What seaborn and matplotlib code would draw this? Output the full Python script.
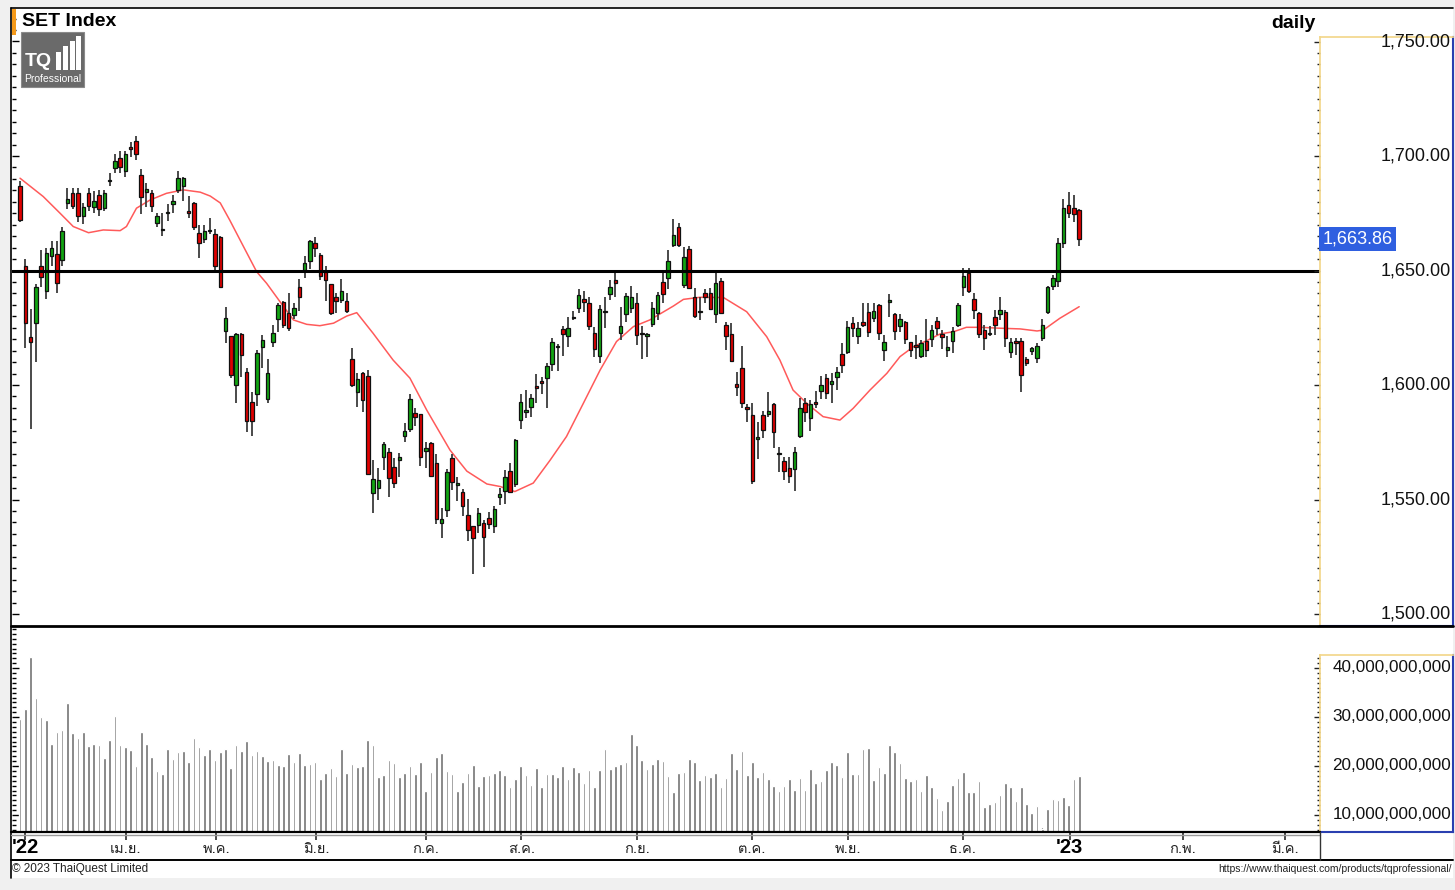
import numpy as np
import pandas as pd
import seaborn as sns
import matplotlib
matplotlib.use("Agg")
import matplotlib.pyplot as plt
from matplotlib import font_manager, transforms
from matplotlib.ft2font import FT2Font
from matplotlib.lines import Line2D
from matplotlib.patches import Rectangle
from matplotlib.ticker import MultipleLocator

# daily OHLC of the SET Index, Mar 2022 - Jan 2023
opens = [1687, 1652, 1621, 1627, 1652, 1641, 1656.5, 1657, 1654.6, 1679.6,
         1684, 1684, 1674, 1684, 1677.6, 1683, 1677.4, 1689, 1694.7, 1699,
         1693.6, 1703.8, 1706.7, 1691.7, 1684.4, 1683.7, 1670.9, 1667.5, 1675, 1679,
         1685.2, 1686.7, 1676, 1679.6, 1666.5, 1663.7, 1667.2, 1666, 1664.5, 1623.5,
         1621.4, 1600, 1622.3, 1605.8, 1592.7, 1596, 1616.7, 1593.7, 1619, 1628.7,
         1636.1, 1631.3, 1630.6, 1642.6, 1650.2, 1654.1, 1662.1, 1656.8, 1649.5, 1644,
         1638.6, 1637.1, 1636.9, 1611.4, 1597.1, 1605.1, 1604, 1552.7, 1555, 1568.4,
         1570.9, 1564.1, 1567.2, 1577.7, 1580.7, 1587.7, 1587.3, 1571.4, 1574.6, 1565.8,
         1539.7, 1545.4, 1568, 1556.2, 1553.3, 1543.2, 1538.4, 1539, 1539.9, 1542.1,
         1538.4, 1551.3, 1553.8, 1562.6, 1556.7, 1584.7, 1588.4, 1590.5, 1599.7, 1601.7,
         1602.9, 1609.3, 1616.5, 1624.4, 1621.2, 1629.4, 1633.5, 1637.4, 1635.7, 1622.9,
         1612.7, 1631.8, 1639.7, 1645.9, 1622.6, 1630.9, 1633.8, 1635.7, 1622.9, 1621.6,
         1626.6, 1631.6, 1645.1, 1646.6, 1661.1, 1668.9, 1643.7, 1659.4, 1638.3, 1631.7,
         1640.1, 1640.1, 1630.9, 1645.6, 1626.2, 1622.2, 1600.4, 1607.3, 1590.5, 1586.9,
         1576.4, 1586.9, 1587.3, 1591.6, 1570, 1566.8, 1563.9, 1563.2, 1577.7, 1592.3,
         1585.5, 1592.5, 1597.5, 1603.2, 1600.4, 1603.4, 1613.5, 1614.6, 1627.2, 1621.6,
         1627.7, 1631.8, 1629.1, 1634.9, 1615.4, 1636.1, 1630.9, 1625.8, 1627.4, 1618.8,
         1617.5, 1612.7, 1619.4, 1620, 1628, 1622.2, 1615.3, 1619.2, 1626.2, 1642.7,
         1649, 1637.6, 1631.6, 1624, 1622.4, 1629.6, 1630.9, 1632, 1614.6, 1619.4,
         1619.4, 1611.3, 1614.8, 1612, 1620.4, 1631.8, 1643.4, 1645.6, 1662, 1678.5,
         1677.5, 1676.5]
highs = [1689, 1655, 1633, 1644, 1659, 1660, 1663, 1663, 1669, 1686,
         1686, 1686, 1679.4, 1686, 1684.7, 1685, 1685, 1692.4, 1701, 1702,
         1702, 1706, 1708.7, 1694.2, 1688, 1685.2, 1675, 1675.2, 1679, 1683,
         1693.6, 1691, 1682.5, 1680, 1670, 1670, 1673, 1668, 1665, 1634.2,
         1621.5, 1622.5, 1622.5, 1607.3, 1597, 1615.3, 1621.8, 1611.2, 1626, 1636,
         1636.5, 1640.3, 1635.7, 1646.2, 1656.3, 1663.5, 1664.5, 1657.8, 1652, 1644.2,
         1640.1, 1646.2, 1640, 1616, 1605.1, 1605.8, 1606.6, 1567.2, 1563.6, 1575.3,
         1572.4, 1568, 1570.5, 1583.3, 1596.1, 1589.9, 1587.5, 1575.3, 1575, 1569.8,
         1546.2, 1563.3, 1569.9, 1559.8, 1554.6, 1550.2, 1538.5, 1546.2, 1541.1, 1544.7,
         1547.2, 1555, 1563, 1565.8, 1576.4, 1596.3, 1598, 1596.1, 1604.8, 1603.7,
         1609.5, 1620.7, 1617.9, 1625.8, 1629.9, 1632.3, 1641.8, 1641.2, 1638.3, 1625.5,
         1634.9, 1638.6, 1645.9, 1649.5, 1634, 1640.3, 1643.2, 1640.1, 1625.8, 1622.6,
         1636.4, 1640.8, 1648.8, 1659, 1672.4, 1670.7, 1660.4, 1660.9, 1642.3, 1638.3,
         1641.9, 1642.4, 1648.8, 1646.6, 1627.7, 1627, 1605.8, 1617, 1591.7, 1592.3,
         1584, 1588.7, 1597.1, 1592, 1573.1, 1568.7, 1568.7, 1573.1, 1594.2, 1594.2,
         1593.4, 1597.4, 1603.9, 1604.7, 1605.4, 1607.7, 1618.5, 1628.1, 1629.9, 1627.7,
         1635.7, 1635.7, 1635.7, 1635.4, 1621.8, 1639.7, 1631.4, 1630.9, 1628.1, 1619,
         1621.8, 1619.7, 1628.7, 1626.2, 1629.9, 1624, 1621.2, 1625.5, 1636, 1650.9,
         1650.9, 1640.3, 1632, 1626.2, 1625.8, 1632.8, 1638.6, 1632.8, 1620.5, 1620.5,
         1620.5, 1612.4, 1616.7, 1618.3, 1628.7, 1643.2, 1648, 1664, 1681, 1684.3,
         1683, 1677]
lows = [1671, 1616, 1581, 1610, 1643, 1637.6, 1652, 1640, 1652, 1677,
        1677, 1671, 1670.3, 1676, 1675, 1674, 1676, 1687, 1692.4, 1692.7,
        1690.7, 1699.7, 1698.3, 1674.7, 1677.6, 1675.7, 1669.2, 1665, 1671.8, 1675,
        1683.7, 1680.5, 1672.8, 1667.7, 1655.4, 1662, 1666, 1649, 1642.5, 1618.3,
        1603, 1592.3, 1603.7, 1579.7, 1577.7, 1590.8, 1607.3, 1592.3, 1616.5, 1623.3,
        1624.8, 1623.8, 1628.7, 1632.3, 1646.6, 1650.6, 1656, 1645.9, 1636.5, 1630.6,
        1631.3, 1636, 1631.3, 1599.3, 1590.5, 1588.2, 1560.7, 1544.3, 1549.8, 1562.9,
        1551.3, 1555, 1559.7, 1575.3, 1579.7, 1582.2, 1564.6, 1563.6, 1559.8, 1539.3,
        1533.1, 1542.5, 1554.2, 1549.4, 1542.9, 1532, 1517.5, 1535.6, 1520.7, 1537,
        1535.6, 1547.6, 1548, 1552.8, 1555.7, 1580.7, 1585.5, 1586.2, 1592, 1596.1,
        1589.8, 1606.3, 1606.1, 1612.7, 1616.7, 1628.4, 1631.6, 1632.1, 1624, 1612.4,
        1609.7, 1624.8, 1637.1, 1638.6, 1619.7, 1627.7, 1631.3, 1617.5, 1611.3, 1612.1,
        1625.2, 1628.4, 1636, 1641.8, 1660.4, 1660.4, 1642.3, 1641.8, 1629.1, 1628.4,
        1636, 1632.6, 1627, 1631, 1615.3, 1610.2, 1595.2, 1589.8, 1584, 1556.7,
        1567.6, 1576.7, 1585.9, 1572.4, 1562.2, 1558.5, 1557.4, 1553.8, 1576.7, 1584,
        1579.9, 1589.9, 1593.8, 1593.8, 1592, 1597.8, 1605.4, 1613.5, 1620.9, 1617.9,
        1625.5, 1620.9, 1627.3, 1619.7, 1610.5, 1629.9, 1619.7, 1623.3, 1617.9, 1612.4,
        1611.3, 1611.7, 1612.1, 1616.7, 1621.8, 1615.7, 1612.1, 1613.9, 1625.2, 1638.9,
        1640.3, 1628.7, 1620.5, 1615.3, 1621.4, 1621.8, 1628.4, 1616.7, 1611.7, 1613.1,
        1597.1, 1608.1, 1613.1, 1609.8, 1619.4, 1631, 1641.5, 1642.7, 1660, 1673,
        1671, 1660.5]
closes = [1672, 1627, 1619, 1643, 1647, 1657.5, 1660, 1644.5, 1667.4, 1681.2,
          1678, 1674, 1677.6, 1678, 1680.5, 1677, 1683.7, 1689.5, 1698, 1695,
          1700.9, 1703, 1700.9, 1682.3, 1685.6, 1678.2, 1673.8, 1668, 1675.3, 1680.3,
          1690.3, 1690.3, 1675, 1668.9, 1661.9, 1667.4, 1667.6, 1652, 1643, 1629.1,
          1604.4, 1622.3, 1613, 1584.4, 1584.4, 1613.9, 1619.7, 1605.4, 1622.6, 1634.9,
          1626.2, 1625, 1633.5, 1638.6, 1653.4, 1662.9, 1659.7, 1647.6, 1645.9, 1631.3,
          1636.9, 1641.1, 1632.3, 1600, 1602.5, 1593.4, 1561, 1559, 1558.5, 1574.1,
          1559.5, 1557.4, 1568.7, 1579.9, 1593.9, 1586, 1568.5, 1572.4, 1560.3, 1541.4,
          1541.4, 1562, 1557.8, 1557.2, 1547.1, 1536.7, 1533.1, 1544.3, 1533.6, 1539.3,
          1545.7, 1552.4, 1559.8, 1553.5, 1576, 1592.7, 1588.8, 1594.2, 1598.6, 1600.7,
          1608.3, 1618.8, 1617, 1622.2, 1624.8, 1629.8, 1639.3, 1636.1, 1625.8, 1615.6,
          1633.2, 1632.2, 1643, 1644.7, 1625.8, 1638.9, 1638.6, 1621.8, 1622.2, 1622,
          1633.5, 1639.3, 1639.7, 1654.1, 1665.5, 1661.1, 1656, 1642.3, 1630.3, 1632.1,
          1638.6, 1633.1, 1644.7, 1631.3, 1621.4, 1610.5, 1599.3, 1592.3, 1589.4, 1558.1,
          1577.5, 1580.3, 1588.6, 1579.4, 1570.4, 1562.6, 1560.4, 1570.9, 1589.8, 1588.4,
          1591.7, 1591.6, 1600, 1596.4, 1601.7, 1605.8, 1608.7, 1625.5, 1625.1, 1624.9,
          1626.2, 1623.3, 1632.3, 1622.6, 1619, 1637.1, 1623.6, 1628.7, 1620, 1615.3,
          1616.5, 1618.5, 1615.3, 1624, 1625.1, 1620.9, 1616.5, 1623.7, 1634.9, 1647.8,
          1641.2, 1632.8, 1622.2, 1620.4, 1622.8, 1626, 1632.8, 1620.4, 1618.8, 1618.3,
          1604.4, 1609.8, 1616.1, 1617.2, 1626.2, 1642.7, 1646.6, 1662, 1677.3, 1675.2,
          1674.5, 1663.86]
# traded value, billion baht
volume_bn = [29.6, 31.6, 42.3, 34.0, 30.1, 29.4, 24.6, 26.9, 27.3, 32.9,
             26.7, 25.8, 26.9, 24.1, 24.6, 24.2, 21.7, 25.4, 30.3, 24.2,
             23.9, 23.3, 20.0, 26.9, 24.6, 21.9, 19.0, 18.4, 23.5, 21.4,
             22.9, 23.1, 20.8, 25.8, 23.9, 22.3, 23.5, 21.2, 22.9, 23.5,
             19.7, 24.2, 23.1, 25.2, 22.3, 23.1, 22.1, 21.0, 21.2, 20.3,
             20.1, 22.5, 20.8, 22.7, 20.2, 20.4, 20.8, 17.3, 18.6, 19.7,
             17.9, 23.5, 18.6, 20.4, 19.9, 20.0, 25.4, 24.3, 17.8, 18.1,
             21.2, 20.6, 17.8, 18.6, 20.0, 18.4, 20.8, 15.0, 18.8, 21.9,
             22.7, 19.0, 18.3, 15.0, 16.7, 18.6, 20.2, 16.0, 17.9, 18.1,
             18.6, 19.2, 18.1, 15.8, 17.3, 20.0, 18.1, 16.2, 19.6, 15.8,
             18.3, 18.4, 17.7, 20.0, 17.3, 19.8, 18.8, 16.5, 19.2, 15.8,
             19.2, 23.4, 19.5, 20.0, 20.4, 20.9, 26.5, 24.4, 21.2, 19.5,
             20.4, 21.5, 21.1, 18.0, 14.8, 18.6, 18.8, 21.5, 20.8, 17.1,
             18.2, 17.7, 18.6, 15.8, 17.5, 22.7, 19.4, 23.1, 18.2, 20.8,
             17.8, 18.8, 17.3, 15.9, 14.9, 15.9, 17.3, 15.2, 17.5, 15.2,
             19.4, 16.5, 16.9, 19.2, 20.8, 20.2, 17.7, 22.9, 18.3, 18.3,
             23.5, 23.7, 17.1, 19.9, 18.5, 24.3, 22.9, 20.7, 17.6, 17.0,
             17.3, 14.9, 18.1, 15.7, 13.5, 11.0, 12.9, 16.1, 17.5, 18.8,
             14.6, 14.6, 17.0, 11.6, 12.3, 12.7, 14.1, 16.6, 15.7, 12.9,
             15.8, 12.3, 10.5, 11.9, 7.1, 11.2, 13.3, 13.1, 13.7, 12.0,
             17.3, 18.0]
# moving average line, read at bar positions
ma_idx = [0, 4.4, 7.6, 10.1, 13.0, 15.8, 19.0, 20.2, 22.1, 24.7, 27.8, 31.0, 34.2,
          36.1, 38.0, 39.8, 42.4, 44.9, 46.8, 49.3, 51.9, 54.4, 56.9, 59.5, 62.0,
          63.9, 67.0, 70.8, 74.0, 77.2, 81.6, 84.8, 88.6, 91.1, 93.9, 97.4, 100.6,
          103.7, 106.9, 110.1, 113.2, 116.4, 119.5, 124.0, 125.9, 129.0, 133.5,
          137.9, 141.7, 144.2, 146.7, 149.3, 152.4, 155.6, 158.1, 161.3, 164.5,
          167.0, 169.6, 172.1, 174.6, 177.2, 179.6, 182.2, 186.0, 189.8, 193.0,
          194.2, 197.3, 201.0]
ma_val = [1690.3, 1682.3, 1675.0, 1669.2, 1666.5, 1667.7, 1667.4, 1669.2, 1677.2,
          1680.8, 1683.7, 1685.2, 1684.2, 1682.5, 1679.5, 1672.0, 1660.5, 1649.5,
          1644.4, 1636.5, 1628.4, 1626.5, 1625.9, 1627.0, 1630.1, 1631.6, 1622.6,
          1610.9, 1603.0, 1589.0, 1571.6, 1562.4, 1556.8, 1555.7, 1553.5, 1557.2,
          1567.2, 1577.5, 1592.0, 1606.6, 1619.0, 1625.5, 1628.4, 1634.5, 1637.4,
          1638.3, 1638.2, 1632.0, 1621.1, 1610.9, 1597.8, 1592.0, 1586.2, 1584.7,
          1589.8, 1597.8, 1605.1, 1612.4, 1616.8, 1619.4, 1622.3, 1623.3, 1625.2,
          1625.2, 1624.8, 1624.5, 1623.6, 1624.0, 1629.1, 1634.2]
resistance = 1650.0
last_price = 1663.86
price_ticks = [1500, 1550, 1600, 1650, 1700, 1750]
volume_ticks = [10, 20, 30, 40]
month_pos = [20.1, 37.2, 56.2, 77.0, 95.1, 117.1, 138.9, 157.1, 178.9, 220.7, 240.0]
month_labels = ["เม.ย.", "พ.ค.", "มิ.ย.", "ก.ค.", "ส.ค.", "ก.ย.", "ต.ค.", "พ.ย.", "ธ.ค.", "ก.พ.", "มี.ค."]
year_pos = [0.95, 199.2]
year_labels = ["'22", "'23"]

W, H = 1455, 890
XLIM = (-1.52, 246.7)


def box(x0, y0, x1, y1):
    # pixel box (top-left origin) -> figure fraction rect
    return [x0 / W, 1 - y1 / H, (x1 - x0) / W, (y1 - y0) / H]


def thai_family():
    for f in font_manager.fontManager.ttflist:
        try:
            if ord("ก") in FT2Font(f.fname).get_charmap():
                return f.name
        except Exception:
            pass
    return None


sns.set_theme(style="white")
plt.rcParams["font.family"] = ["Liberation Sans", "DejaVu Sans"]
th = thai_family()
thai_fam = [th, "DejaVu Sans"] if th else ["DejaVu Sans"]

df = pd.DataFrame({"o": opens, "h": highs, "l": lows, "c": closes, "v": volume_bn})
df["i"] = np.arange(len(df))
up = df["c"] >= df["o"]

fig = plt.figure(figsize=(W / 100, H / 100), dpi=100, facecolor="#f0f0f0")
px = transforms.Affine2D().scale(1 / W, -1 / H).translate(0, 1) + fig.transFigure
fig.add_artist(Rectangle((11, 8), 1442, 870, transform=px, fc="white", ec="none", zorder=-5))

# ---- price panel
ax_p = fig.add_axes(box(12, 8, 1320, 626))
ax_p.set_facecolor("none")
ax_p.vlines(df["i"], df["l"], df["h"], color="#3c3c3c", lw=1.3, zorder=2)
ax_p.bar(df["i"], (df["c"] - df["o"]).abs().clip(lower=0.5), bottom=np.minimum(df["o"], df["c"]),
         width=0.66, color=np.where(up, "#12a512", "#e00000"), edgecolor="#101010",
         linewidth=0.9, zorder=3)
sns.lineplot(x=ma_idx, y=ma_val, ax=ax_p, color="#ff5a5a", lw=1.1, zorder=1)
ax_p.axhline(resistance, color="black", lw=2.2, zorder=4)
ax_p.set_xlim(*XLIM)
ax_p.set_ylim(1494.8, 1764.6)
ax_p.set_xticks([])
ax_p.yaxis.set_major_locator(MultipleLocator(50))
ax_p.yaxis.set_minor_locator(MultipleLocator(5))
ax_p.tick_params(axis="y", which="both", direction="in", left=True, labelleft=False,
                 color="black", width=1)
ax_p.tick_params(axis="y", which="major", length=5)
ax_p.tick_params(axis="y", which="minor", length=3)
for s in ax_p.spines.values():
    s.set_visible(False)

# price label column
ax_pl = fig.add_axes(box(1320, 37, 1453, 626))
ax_pl.set_ylim(1494.8, 1700 + (156 - 37) / 2.29)
ax_pl.set_xlim(0, 1)
ax_pl.set_xticks([])
ax_pl.yaxis.set_major_locator(MultipleLocator(50))
ax_pl.yaxis.set_minor_locator(MultipleLocator(5))
ax_pl.tick_params(axis="y", which="both", direction="out", left=True, labelleft=False,
                  color="#222222", width=1)
ax_pl.tick_params(axis="y", which="major", length=4)
ax_pl.tick_params(axis="y", which="minor", length=2)
for v in price_ticks:
    ax_pl.text(0.985, v, f"{v:,.2f}", ha="right", va="center", fontsize=13, color="#111111")
ax_pl.text(0.02, last_price, f"{last_price:,.2f}", ha="left", va="center", fontsize=13,
           color="white", bbox=dict(boxstyle="square,pad=0.2", fc="#2f5fe0", ec="none"))
for k in ("top", "left"):
    ax_pl.spines[k].set_color("#f3d78c")
for k in ("right", "bottom"):
    ax_pl.spines[k].set_color("#2a3fb0")
    ax_pl.spines[k].set_linewidth(1.5)

# ---- volume panel
ax_v = fig.add_axes(box(12, 628, 1320, 832))
sns.barplot(x=df["i"], y=df["v"], native_scale=True, ax=ax_v, color="#707070",
            saturation=1, width=0.5, errorbar=None)
ax_v.set_xlim(*XLIM)
ax_v.set_ylim(6.53, 48.2)
ax_v.set_xlabel("")
ax_v.set_ylabel("")
ax_v.set_xticks(df["i"], minor=True)
ax_v.set_xticks([])
ax_v.tick_params(axis="x", which="minor", direction="in", bottom=True, length=3,
                 color="#333333", width=0.8)
ax_v.yaxis.set_major_locator(MultipleLocator(10))
ax_v.yaxis.set_minor_locator(MultipleLocator(1))
ax_v.tick_params(axis="y", which="both", direction="in", left=True, labelleft=False,
                 color="black", width=1)
ax_v.tick_params(axis="y", which="major", length=5)
ax_v.tick_params(axis="y", which="minor", length=3)
for s in ax_v.spines.values():
    s.set_visible(False)

ax_vl = fig.add_axes(box(1320, 655, 1453, 832))
ax_vl.set_ylim(6.53, 10 + 160 / 4.9)
ax_vl.set_xlim(0, 1)
ax_vl.set_xticks([])
ax_vl.yaxis.set_major_locator(MultipleLocator(10))
ax_vl.yaxis.set_minor_locator(MultipleLocator(1))
ax_vl.tick_params(axis="y", which="both", direction="out", left=True, labelleft=False,
                  color="#222222", width=1)
ax_vl.tick_params(axis="y", which="major", length=4)
ax_vl.tick_params(axis="y", which="minor", length=2)
for v in volume_ticks:
    ax_vl.text(0.985, v, f"{int(v * 1e9):,}", ha="right", va="center", fontsize=12.3,
               color="#111111")
for k in ("top", "left"):
    ax_vl.spines[k].set_color("#f3d78c")
for k in ("right", "bottom"):
    ax_vl.spines[k].set_color("#2a3fb0")
    ax_vl.spines[k].set_linewidth(1.5)

# ---- date strip
ax_x = fig.add_axes(box(12, 833, 1320, 860))
ax_x.set_facecolor("none")
ax_x.set_xlim(*XLIM)
ax_x.set_ylim(0, 1)
ax_x.set_yticks([])
ax_x.set_xticks(month_pos + year_pos)
ax_x.tick_params(axis="x", direction="in", top=True, bottom=False, labelbottom=False,
                 length=5, color="#333333")
for s in ax_x.spines.values():
    s.set_visible(False)
for p, lab in zip(month_pos, month_labels):
    ax_x.text(p, 0.42, lab, ha="center", va="center", fontsize=10.5, color="#222222",
              family=thai_fam)
for p, lab in zip(year_pos, year_labels):
    ax_x.text(p, 0.45, lab, ha="center", va="center", fontsize=14.5, fontweight="bold",
              color="black")

# frame lines
for (x0, y0, x1, y1, c, lw) in [
        (11, 8, 1453, 8, "black", 1.2), (11, 8, 11, 878, "black", 1.2),
        (11, 626, 1453, 626, "black", 2.0), (11, 832, 1320, 832, "black", 1.6),
        (11, 835, 1320, 835, "#9a9a9a", 1.0), (11, 860, 1453, 860, "black", 1.4),
        (1320, 832, 1320, 860, "#333333", 1.0)]:
    fig.add_artist(Line2D([x0, x1], [y0, y1], transform=px, color=c, lw=lw))

# header: title, logo, period
fig.add_artist(Rectangle((12, 9), 4, 26, transform=px, fc="#f59a1b", ec="none", zorder=5))
fig.text(22 / W, 1 - 22 / H, "SET Index", fontsize=14, fontweight="bold", va="center",
         color="black")
fig.text(1316 / W, 1 - 23 / H, "daily", fontsize=14, fontweight="bold", va="center",
         ha="right", color="black")
fig.add_artist(Rectangle((21, 32), 63, 55, transform=px, fc="#6a6a6a", ec="#8a8a8a", lw=0.8))
fig.text(25 / W, 1 - 62 / H, "TQ", fontsize=14, fontweight="bold", va="center", color="white")
for bx, btop in [(56, 52), (63, 46), (70, 41), (76, 36)]:
    fig.add_artist(Rectangle((bx, btop), 5, 70 - btop, transform=px, fc="white", ec="none"))
fig.text(24 / W, 1 - 79 / H, "Professional", fontsize=7.5, va="center", color="white")

# footer
fig.text(12 / W, 1 - 869 / H, "© 2023 ThaiQuest Limited", fontsize=8.5, va="center",
         color="#222222")
fig.text(1452 / W, 1 - 869 / H, "https://www.thaiquest.com/products/tqprofessional/",
         fontsize=7.5, va="center", ha="right", color="#222222")

fig.savefig("out.png", dpi=100, facecolor=fig.get_facecolor())
